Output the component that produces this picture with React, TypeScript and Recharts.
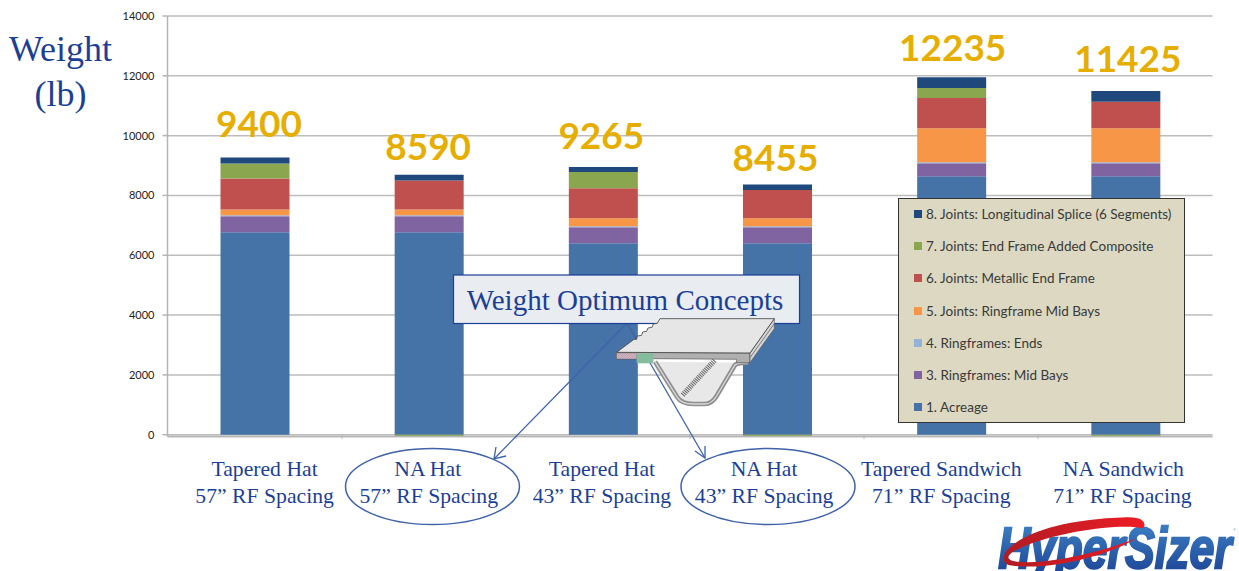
import React from "react";
import { BarChart, Bar, XAxis, YAxis, CartesianGrid, Legend, LabelList } from "recharts";

const categoryFirstLine = ["Tapered Hat", "NA Hat", "Tapered Hat", "NA Hat", "Tapered Sandwich", "NA Sandwich"];
const categorySecondLine = ["57” RF Spacing", "57” RF Spacing", "43” RF Spacing", "43” RF Spacing", "71” RF Spacing", "71” RF Spacing"];
const totals = [9400, 8590, 9265, 8455, 12235, 11425];
const acreage = [6773, 6773, 6400, 6400, 8640, 8640];
const ringMid = [534, 534, 540, 540, 440, 440];
const ringEnds = [33, 33, 30, 30, 30, 30];
const jointRing = [190, 190, 270, 270, 1140, 1140];
const jointMetal = [1040, 970, 1000, 940, 1010, 880];
const jointComposite = [500, -60, 540, -60, 330, -60];
const jointSplice = [200, 190, 170, 190, 360, 360];
const yTicks = [0, 2000, 4000, 6000, 8000, 10000, 12000, 14000];

const data = categoryFirstLine.map((c, i) => ({
  name: c + " " + categorySecondLine[i],
  total: totals[i],
  acreage: acreage[i],
  ringMid: ringMid[i],
  ringEnds: ringEnds[i],
  jointRing: jointRing[i],
  jointMetal: jointMetal[i],
  jointComposite: jointComposite[i],
  jointSplice: jointSplice[i],
}));

const series = [
  { key: "acreage", name: "1. Acreage", color: "#4572a7" },
  { key: "ringMid", name: "3. Ringframes: Mid Bays", color: "#8064a2" },
  { key: "ringEnds", name: "4. Ringframes: Ends", color: "#95b3d7" },
  { key: "jointRing", name: "5. Joints: Ringframe Mid Bays", color: "#f79646" },
  { key: "jointMetal", name: "6. Joints: Metallic End Frame", color: "#c0504d" },
  { key: "jointComposite", name: "7. Joints: End Frame Added Composite", color: "#8aa64f" },
  { key: "jointSplice", name: "8. Joints: Longitudinal Splice (6 Segments)", color: "#1f497d" },
];

const BLUE = "#1c3f96";
const SERIF = "'Liberation Serif', serif";
const SANS = "Lato, sans-serif";

const tickShift = [10, 0, -1, -13, -10, -3];
const line1Shift = [0, -1, 0, 0, 0, 1];
const labelShift = [4, -1, -2, -2, 1, 2];
const labelRise = [20, 15, 18, 13, 16, 19];

function CategoryTick(props: any) {
  const { x, index } = props;
  const cx = x + tickShift[index];
  return (
    <g fontFamily={SERIF} fontSize={21.7} fill={BLUE} textAnchor="middle">
      <text x={cx + line1Shift[index]} y={476}>{categoryFirstLine[index]}</text>
      <text x={cx} y={503}>{categorySecondLine[index]}</text>
    </g>
  );
}

function TotalLabel(props: any) {
  const { x, y, width, value, index } = props;
  return (
    <text
      x={x + width / 2 + labelShift[index]}
      y={y - labelRise[index]}
      textAnchor="middle"
      fontFamily={SANS}
      fontWeight={700}
      fontSize={37}
      fill="#e6ae00"
    >
      {value}
    </text>
  );
}

function LegendBox(props: any) {
  const items = [...(props.payload || [])].reverse();
  return (
    <div
      style={{
        width: 287,
        height: 225,
        boxSizing: "border-box",
        background: "#dcd8c1",
        border: "1.5px solid #333",
        position: "relative",
      }}
    >
      {items.map((it: any, i: number) => (
        <div
          key={it.value}
          style={{
            position: "absolute",
            left: 15,
            top: 7 + i * 32.2,
            height: 16,
            display: "flex",
            alignItems: "center",
            whiteSpace: "nowrap",
            fontFamily: SANS,
            fontSize: 13.5,
            color: "#3a3a3a",
          }}
        >
          <span style={{ width: 8, height: 8, background: it.color, marginRight: 4, display: "inline-block" }} />
          {it.value}
        </div>
      ))}
    </div>
  );
}

function Overlay() {
  return (
    <svg
      width={1239}
      height={571}
      style={{ position: "absolute", left: 0, top: 0, pointerEvents: "none" }}
    >
      <defs>
        <linearGradient id="logoBlue" x1="0" y1="0" x2="0" y2="1">
          <stop offset="0" stopColor="#3f86c9" />
          <stop offset="1" stopColor="#1b3f92" />
        </linearGradient>
        <linearGradient id="logoRed" x1="0" y1="0" x2="1" y2="0">
          <stop offset="0" stopColor="#b01c22" />
          <stop offset="1" stopColor="#ee1c25" />
        </linearGradient>
        <pattern id="hatchGreen" width="5" height="5" patternUnits="userSpaceOnUse" patternTransform="rotate(45)">
          <rect width="5" height="5" fill="#8cc4a4" />
          <line x1="0" y1="0" x2="0" y2="5" stroke="#5d8f76" strokeWidth="1.5" />
        </pattern>
        <pattern id="hatchPink" width="5" height="5" patternUnits="userSpaceOnUse" patternTransform="rotate(45)">
          <rect width="5" height="5" fill="#d5b6c3" />
          <line x1="0" y1="0" x2="0" y2="5" stroke="#84707a" strokeWidth="1.5" />
        </pattern>
      </defs>
      <g fontFamily={SERIF} fill={BLUE} textAnchor="middle">
        <text x={60.5} y={61} fontSize={36}>Weight</text>
        <text x={60.5} y={106} fontSize={36}>(lb)</text>
      </g>
      {[342, 516, 690, 864, 1038].map((x) => (
        <line key={x} x1={x} x2={x} y1={435} y2={439} stroke="#b5b5b5" strokeWidth={1} />
      ))}
      <ellipse cx={432.5} cy={486.5} rx={87} ry={38} fill="none" stroke="#3f62a8" strokeWidth={1.5} />
      <ellipse cx={768} cy={486.5} rx={87} ry={38} fill="none" stroke="#3f62a8" strokeWidth={1.5} />
      <g stroke="#3f62a8" strokeWidth={1.3} fill="none">
        <line x1={627} y1={323} x2={494} y2={459} />
        <polyline points="496,447 494,459 506,456" />
        <line x1={627} y1={323} x2={705} y2={458} />
        <polyline points="695,451 705,458 705,446" />
      </g>
      <rect x={453.5} y={275} width={346} height={48.5} fill="#e9ecf0" stroke={BLUE} strokeWidth={1.2} />
      <text x={625} y={309.5} fontFamily={SERIF} fontSize={29} fill={BLUE} textAnchor="middle">
        Weight Optimum Concepts
      </text>
      <g transform="translate(440,260) scale(0.3333)">
        <path
          d="M645,305 L712,412 Q725,432 760,432 L795,432 Q815,432 830,408 L885,315 Q892,308 925,308"
          fill="#e8e8e8"
          stroke="#8f8f8f"
          strokeWidth={14}
        />
        <path
          d="M645,305 L712,412 Q725,432 760,432 L795,432 Q815,432 830,408 L885,315 Q892,308 925,308"
          fill="none"
          stroke="#d8d8d8"
          strokeWidth={4}
        />
        <line x1={728} y1={405} x2={825} y2={300} stroke="#666" strokeWidth={16} strokeDasharray="3 3" />
        <path d="M530,277 L930,279 L930,308 L890,308 L890,298 L640,296 L530,297 Z" fill="#b0b0b0" stroke="#555" strokeWidth={2} />
        <path d="M930,279 L1003,176 L1003,206 L930,308 Z" fill="#d4d4d4" stroke="#555" strokeWidth={2} />
        <path d="M930,293 L1003,191" stroke="#555" strokeWidth={2} fill="none" />
        <path
          d="M530,277 L582,238 L590,238 L592,228 L605,226 L608,216 L620,214 L624,204 L636,202 L640,192 L652,190 L660,176 L1003,176 L930,279 Z"
          fill="#e6e6e6"
          stroke="#444"
          strokeWidth={2.5}
        />
        <rect x={530} y={279} width={60} height={18} fill="url(#hatchPink)" stroke="#666" strokeWidth={1} />
        <rect x={590} y={280} width={50} height={30} fill="url(#hatchGreen)" />
      </g>
      <g transform="translate(980,500) scale(0.3333)">
        <text
          x={55}
          y={204}
          fontFamily="'Liberation Sans', sans-serif"
          fontWeight={700}
          fontStyle="italic"
          fontSize={170}
          textLength={700}
          lengthAdjust="spacingAndGlyphs"
          fill="url(#logoBlue)"
          stroke="url(#logoBlue)"
          strokeWidth={7}
        >
          HyperSizer
        </text>
        <path
          d="M85,195 C30,170 130,60 440,52 C490,50 500,70 490,85 C430,70 250,90 130,140 C80,160 70,180 110,185 C220,195 380,150 470,115 C380,170 200,215 85,195 Z"
          fill="url(#logoRed)"
        />
        <circle cx={764} cy={88} r={3} fill="#a9c1dd" />
      </g>
    </svg>
  );
}

export default function App() {
  return (
    <div style={{ position: "absolute", left: 0, top: 0, width: 1239, height: 571, background: "#fff", overflow: "hidden" }}>
      <BarChart
        width={1239}
        height={571}
        data={data}
        stackOffset="sign"
        barSize={69}
        margin={{ top: 16, right: 26.5, bottom: 0.5, left: 0 }}
      >
        <CartesianGrid vertical={false} stroke="#bdbdbd" strokeWidth={1.5} />
        <XAxis
          dataKey="name"
          height={134}
          interval={0}
          tick={<CategoryTick />}
          tickLine={false}
          axisLine={{ stroke: "#b5b5b5", strokeWidth: 1.5 }}
        />
        <YAxis
          width={167.5}
          domain={[0, 14000]}
          ticks={yTicks}
          interval={0}
          tickSize={5}
          tickMargin={8}
          tick={{ fontFamily: SANS, fontSize: 11, fill: "#222" }}
          tickLine={{ stroke: "#b5b5b5", strokeWidth: 1.5 }}
          axisLine={{ stroke: "#b5b5b5", strokeWidth: 1.5 }}
        />
        <Legend
          layout="vertical"
          align="center"
          verticalAlign="middle"
          content={<LegendBox />}
          wrapperStyle={{ position: "absolute", left: 898, top: 198, width: 287, height: 225, margin: 0 }}
        />
        {series.map((s) => (
          <Bar key={s.key} dataKey={s.key} name={s.name} stackId="a" fill={s.color} isAnimationActive={false}>
            {s.key === "jointSplice" ? <LabelList dataKey="total" content={<TotalLabel />} /> : null}
          </Bar>
        ))}
      </BarChart>
      <Overlay />
    </div>
  );
}
